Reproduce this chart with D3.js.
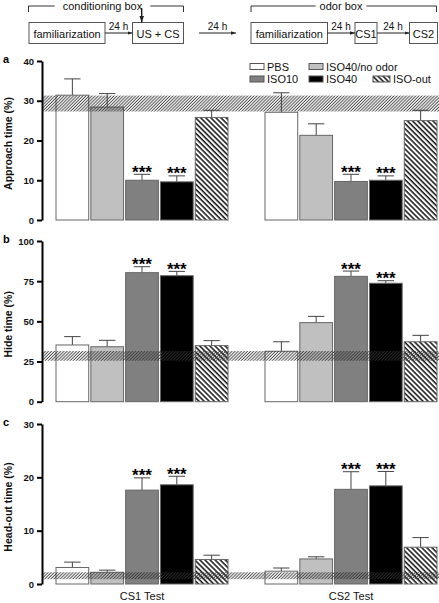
<!DOCTYPE html>
<html><head><meta charset="utf-8">
<script src="https://cdn.jsdelivr.net/npm/d3@7/dist/d3.min.js"></script>
<style>body{margin:0;background:#fff}svg{display:block;font-family:"Liberation Sans",Arial,sans-serif}</style>
</head><body><svg id="c" width="439" height="603"></svg>
<script>
// ---- data ----
const groups = ["CS1 Test", "CS2 Test"];
const series = ["PBS", "ISO40/no odor", "ISO10", "ISO40", "ISO-out"];
const approachCS1 = [31.4, 28.4, 10.0, 9.6, 25.8];
const approachCS2 = [27.1, 21.3, 9.7, 10.0, 25.0];
const approachErrCS1 = [4.1, 3.4, 1.5, 1.5, 1.8];
const approachErrCS2 = [4.9, 2.9, 1.8, 1.1, 2.6];
const hideCS1 = [35.3, 34.2, 80.3, 78.4, 34.9];
const hideCS2 = [31.4, 49.2, 78.0, 73.7, 37.3];
const hideErrCS1 = [5.2, 4.0, 3.7, 2.7, 3.1];
const hideErrCS2 = [5.9, 3.9, 3.3, 1.6, 4.0];
const headoutCS1 = [3.1, 2.2, 17.6, 18.6, 4.6];
const headoutCS2 = [2.4, 4.7, 17.75, 18.4, 6.9];
const headoutErrCS1 = [1.0, 0.4, 2.3, 1.6, 0.8];
const headoutErrCS2 = [0.6, 0.4, 3.3, 2.7, 1.8];
const significant = [false, false, true, true, false];
const approachBand = [27.3, 31.3];
const hideBand = [25.5, 31.5];
const headoutBand = [0.9, 2.2];
const approachTicks = [0, 10, 20, 30, 40];
const hideTicks = [0, 25, 50, 75, 100];
const headoutTicks = [0, 10, 20, 30];

const fills = {"PBS":"#ffffff","ISO40/no odor":"#c0c0c0","ISO10":"#808080","ISO40":"#000000","ISO-out":"url(#hatch)"};

const svg = d3.select("#c");
const defs = svg.append("defs");
const hp = defs.append("pattern").attr("id","hatch").attr("patternUnits","userSpaceOnUse")
  .attr("width",3.6).attr("height",10).attr("patternTransform","rotate(-45)");
hp.append("rect").attr("width",3.6).attr("height",10).attr("fill","#fff");
hp.append("line").attr("x1",1).attr("x2",1).attr("y1",0).attr("y2",10).attr("stroke","#000").attr("stroke-width",1.4);
const bp = defs.append("pattern").attr("id","band").attr("patternUnits","userSpaceOnUse")
  .attr("width",2.2).attr("height",10).attr("patternTransform","rotate(45)");
bp.append("line").attr("x1",1).attr("x2",1).attr("y1",0).attr("y2",10).attr("stroke","rgba(50,50,50,0.85)").attr("stroke-width",1);

// ---- flow diagram ----
const flow = svg.append("g").attr("font-size",11).attr("fill","#111");
defs.append("marker").attr("id","ah").attr("viewBox","0 0 10 10").attr("refX",10).attr("refY",5)
  .attr("markerWidth",5).attr("markerHeight",5).attr("orient","auto")
  .append("path").attr("d","M0,1.5L10,5L0,8.5Z").attr("fill","#222");
const boxes = [
  {t:"familiarization", x0:29, x1:105},
  {t:"US + CS", x0:132.5, x1:183.5},
  {t:"familiarization", x0:251, x1:327.5},
  {t:"CS1", x0:355, x1:377},
  {t:"CS2", x0:409.5, x1:437.5}
];
boxes.forEach(b=>{
  flow.append("rect").attr("x",b.x0).attr("y",22.5).attr("width",b.x1-b.x0).attr("height",21)
    .attr("fill","#fff").attr("stroke","#555").attr("stroke-width",1);
  flow.append("text").attr("x",(b.x0+b.x1)/2).attr("y",37.5).attr("text-anchor","middle").text(b.t);
});
const arrows = [[105,132.5,118.5],[199,236,217.5],[327.5,355,341],[377,409.5,393]];
arrows.forEach(a=>{
  flow.append("line").attr("x1",a[0]).attr("x2",a[1]).attr("y1",33).attr("y2",33)
    .attr("stroke","#222").attr("stroke-width",1).attr("marker-end","url(#ah)");
  flow.append("text").attr("x",a[2]).attr("y",30).attr("text-anchor","middle").attr("font-size",10).text("24 h");
});
function bracket(x0,x1,t,tx){
  const tw = t.length*5.6;
  flow.append("path").attr("d",`M${x0},12V6H${tx-tw/2-3}M${tx+tw/2+3},6H${x1}V12`)
    .attr("fill","none").attr("stroke","#333").attr("stroke-width",1);
  flow.append("text").attr("x",tx).attr("y",9.5).attr("text-anchor","middle").text(t);
}
bracket(28.5,183.5,"conditioning box",102.5);
bracket(251,436.5,"odor box",341);
flow.append("line").attr("x1",141.7).attr("x2",141.7).attr("y1",8).attr("y2",22.5)
  .attr("stroke","#111").attr("stroke-width",1.3).attr("marker-end","url(#ah)");

// ---- scales ----
const x0 = d3.scaleBand().domain(groups).range([56,437]).paddingInner(0.177).paddingOuter(0);
const x1 = d3.scaleBand().domain(series).range([0,x0.bandwidth()]).paddingInner(0.06).paddingOuter(0);

function panel(letter,title,ticks,range,vals1,vals2,err1,err2,band){
  const y = d3.scaleLinear().domain([ticks[0],ticks[ticks.length-1]]).range(range);
  const g = svg.append("g");
  const data = [];
  [[vals1,err1],[vals2,err2]].forEach((ve,gi)=>{
    series.forEach((s,si)=>data.push({g:groups[gi],s,v:ve[0][si],e:ve[1][si],sig:significant[si]}));
  });
  // error bars
  const eb = g.append("g").attr("stroke","#444").attr("stroke-width",1);
  data.forEach(d=>{
    const cx = x0(d.g)+x1(d.s)+x1.bandwidth()/2;
    eb.append("line").attr("x1",cx).attr("x2",cx).attr("y1",y(d.v)).attr("y2",y(d.v+d.e));
    eb.append("line").attr("x1",cx-x1.bandwidth()/4).attr("x2",cx+x1.bandwidth()/4).attr("y1",y(d.v+d.e)).attr("y2",y(d.v+d.e));
  });
  g.append("g").selectAll("rect").data(data).join("rect")
    .attr("x",d=>x0(d.g)+x1(d.s)).attr("width",x1.bandwidth())
    .attr("y",d=>y(d.v)).attr("height",d=>y(0)-y(d.v))
    .attr("fill",d=>fills[d.s]).attr("stroke","#666").attr("stroke-width",1);
  // band
  g.append("rect").attr("x",43).attr("width",439-43).attr("y",y(band[1])).attr("height",y(band[0])-y(band[1]))
    .attr("fill","url(#band)");
  // stars
  g.append("g").selectAll("text").data(data.filter(d=>d.sig)).join("text")
    .attr("x",d=>x0(d.g)+x1(d.s)+x1.bandwidth()/2).attr("y",d=>y(d.v+d.e)+3.5)
    .attr("text-anchor","middle").attr("font-size",17).attr("font-weight","bold").attr("fill","#000").text("***");
  // axis
  const ax = g.append("g").attr("transform","translate(42,0)")
    .call(d3.axisLeft(y).tickValues(ticks).tickSize(5).tickSizeOuter(0).tickPadding(3));
  ax.select(".domain").attr("stroke","#000").attr("stroke-width",2);
  ax.selectAll(".tick line").attr("stroke","#000").attr("stroke-width",2);
  ax.selectAll(".tick text").attr("font-size",9.5).attr("font-weight","bold").attr("fill","#111")
    .attr("font-family","Liberation Sans, Arial, sans-serif");
  const mid = (range[0]+range[1])/2;
  g.append("text").attr("transform",`translate(12,${mid+3}) rotate(-90)`).attr("text-anchor","middle")
    .attr("font-size",10.5).attr("font-weight","bold").attr("fill","#111").text(title);
  g.append("text").attr("x",3).attr("y",range[1]+2).attr("font-size",11).attr("font-weight","bold").text(letter);
}
panel("a","Approach time (%)",approachTicks,[220,61],approachCS1,approachCS2,approachErrCS1,approachErrCS2,approachBand);
panel("b","Hide time (%)",hideTicks,[401.7,241],hideCS1,hideCS2,hideErrCS1,hideErrCS2,hideBand);
panel("c","Head-out time (%)",headoutTicks,[584,424],headoutCS1,headoutCS2,headoutErrCS1,headoutErrCS2,headoutBand);

// group labels
svg.append("g").selectAll("text").data(groups).join("text")
  .attr("x",d=>x0(d)+x0.bandwidth()/2).attr("y",600).attr("text-anchor","middle")
  .attr("font-size",11).attr("fill","#111").text(d=>d);

// legend
const legendItems = [
  {s:"PBS", x:250, y:63.5, w:14},
  {s:"ISO40/no odor", x:309, y:63.5, w:14},
  {s:"ISO10", x:250, y:76, w:14},
  {s:"ISO40", x:309, y:76, w:14},
  {s:"ISO-out", x:373, y:76, w:17}
];
const lg = svg.append("g");
legendItems.forEach(it=>{
  lg.append("rect").attr("x",it.x).attr("y",it.y).attr("width",it.w).attr("height",6)
    .attr("fill",fills[it.s]).attr("stroke","#555").attr("stroke-width",1);
  lg.append("text").attr("x",it.x+it.w+3).attr("y",it.y+7).attr("font-size",11).attr("fill","#111").text(it.s);
});
</script></body></html>
